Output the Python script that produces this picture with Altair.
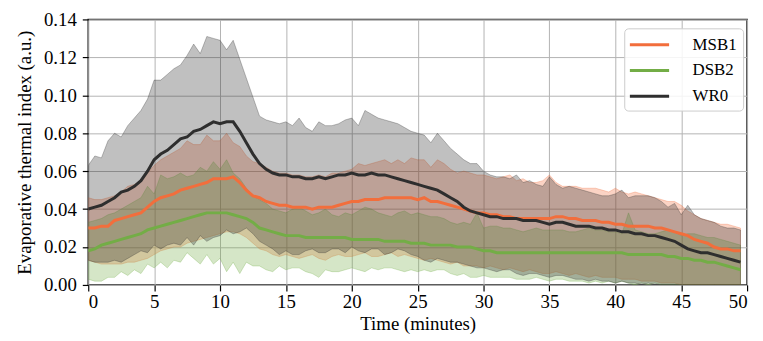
import altair as alt
import pandas as pd

# time axis (minutes), 0.5-minute sampling
T = [i * 0.5 for i in range(100)]

SERIES = ["MSB1", "DSB2", "WR0"]
COLORS = ["#F26E3C", "#73AD46", "#2E2E2E"]

# ---- WR0 ----
WR0_MEAN = [
    .040, .041, .042, .044, .046, .049, .050, .052, .055, .060,
    .066, .069, .071, .074, .077, .078, .081, .082, .084, .086,
    .085, .086, .086, .081, .075, .069, .064, .061, .059, .058,
    .058, .057, .057, .056, .056, .057, .056, .057, .058, .058,
    .059, .058, .058, .059, .058, .058, .057, .056, .055, .054,
    .053, .052, .051, .050, .048, .046, .044, .041, .039, .038,
    .037, .036, .036, .035, .035, .035, .034, .034, .034, .033,
    .032, .033, .033, .032, .031, .031, .031, .030, .030, .029,
    .029, .028, .028, .027, .027, .026, .026, .025, .024, .023,
    .021, .019, .018, .017, .017, .016, .015, .014, .013, .012,
]
WR0_HI = [
    .063, .068, .067, .076, .080, .078, .084, .088, .092, .098,
    .108, .108, .111, .114, .116, .121, .127, .122, .131, .130,
    .129, .124, .129, .119, .109, .099, .089, .087, .086, .085,
    .086, .084, .088, .083, .081, .086, .084, .084, .085, .087,
    .088, .084, .092, .090, .088, .087, .086, .085, .083, .081,
    .080, .079, .075, .080, .076, .072, .069, .066, .064, .064,
    .060, .058, .057, .057, .056, .058, .054, .055, .053, .052,
    .057, .053, .051, .052, .051, .050, .049, .048, .047, .047,
    .048, .050, .046, .047, .047, .047, .046, .044, .041, .043,
    .037, .042, .037, .035, .034, .033, .031, .030, .030, .029,
]
WR0_LO = [
    .013, .012, .012, .012, .013, .012, .014, .016, .018, .017,
    .021, .019, .021, .022, .021, .025, .021, .026, .023, .025,
    .026, .029, .027, .028, .030, .027, .023, .021, .019, .016,
    .018, .016, .016, .018, .019, .017, .017, .019, .019, .017,
    .020, .018, .017, .019, .019, .016, .017, .019, .018, .016,
    .015, .013, .012, .014, .013, .012, .012, .011, .010, .009,
    .009, .008, .007, .008, .008, .006, .005, .006, .006, .005,
    .004, .005, .005, .004, .003, .003, .002, .003, .002, .002,
    .001, .002, .001, .001, .000, .001, .000, .000, .000, .000,
    .000, .000, .000, .000, .000, .000, .000, .000, .000, .000,
]

# ---- MSB1 ----
MSB1_MEAN = [
    .030, .030, .031, .031, .034, .035, .036, .037, .038, .041,
    .044, .046, .047, .048, .050, .051, .052, .053, .054, .056,
    .056, .056, .057, .054, .050, .047, .046, .044, .043, .042,
    .042, .041, .041, .041, .040, .041, .041, .041, .042, .043,
    .044, .044, .045, .045, .045, .046, .046, .046, .046, .046,
    .045, .046, .044, .044, .043, .042, .041, .040, .039, .038,
    .038, .037, .037, .036, .036, .035, .035, .035, .035, .035,
    .035, .036, .036, .035, .035, .034, .034, .034, .033, .033,
    .032, .032, .031, .031, .031, .031, .030, .030, .029, .028,
    .027, .026, .024, .023, .022, .020, .019, .019, .018, .018,
]
MSB1_HI = [
    .046, .045, .045, .046, .047, .049, .052, .053, .055, .059,
    .063, .066, .068, .070, .072, .076, .074, .074, .079, .076,
    .076, .080, .075, .073, .068, .065, .064, .062, .060, .059,
    .059, .058, .058, .057, .057, .058, .057, .059, .059, .060,
    .061, .064, .063, .064, .065, .066, .064, .066, .064, .067,
    .066, .066, .062, .066, .064, .061, .059, .060, .059, .058,
    .058, .057, .056, .057, .058, .055, .056, .054, .054, .055,
    .058, .054, .052, .052, .052, .051, .051, .051, .050, .049,
    .051, .049, .048, .049, .048, .047, .046, .045, .044, .044,
    .042, .039, .037, .035, .034, .033, .032, .032, .031, .030,
]
MSB1_LO = [
    .013, .012, .011, .011, .011, .011, .012, .012, .013, .014,
    .016, .018, .019, .020, .020, .022, .023, .024, .025, .026,
    .027, .028, .028, .027, .025, .022, .019, .018, .016, .015,
    .016, .015, .014, .015, .016, .014, .013, .015, .016, .015,
    .015, .016, .017, .015, .015, .016, .017, .015, .016, .015,
    .014, .013, .014, .013, .012, .011, .012, .010, .010, .010,
    .009, .010, .009, .008, .009, .008, .007, .008, .007, .006,
    .006, .007, .006, .005, .006, .005, .004, .005, .004, .004,
    .004, .003, .003, .003, .002, .002, .002, .001, .001, .001,
    .000, .000, .000, .000, .000, .000, .000, .000, .000, .000,
]

# ---- DSB2 ----
DSB2_MEAN = [
    .018, .019, .021, .022, .023, .024, .025, .026, .027, .029,
    .030, .031, .032, .033, .034, .035, .036, .037, .038, .038,
    .038, .038, .037, .036, .035, .033, .030, .029, .028, .027,
    .026, .026, .026, .025, .025, .025, .025, .025, .025, .025,
    .024, .024, .024, .024, .024, .023, .023, .023, .023, .022,
    .022, .022, .021, .021, .021, .021, .020, .020, .020, .019,
    .018, .018, .017, .017, .017, .017, .017, .017, .017, .017,
    .017, .017, .017, .017, .017, .017, .017, .017, .017, .017,
    .017, .017, .016, .016, .016, .016, .016, .016, .015, .015,
    .014, .014, .013, .013, .012, .012, .011, .010, .009, .008,
]
DSB2_HI = [
    .033, .034, .035, .037, .038, .040, .042, .044, .046, .052,
    .048, .058, .056, .057, .059, .057, .058, .062, .060, .065,
    .061, .066, .059, .056, .051, .047, .045, .043, .040, .039,
    .038, .040, .041, .039, .037, .038, .040, .037, .036, .038,
    .037, .039, .041, .040, .038, .037, .036, .038, .039, .037,
    .038, .037, .036, .036, .035, .033, .032, .033, .032, .038,
    .030, .031, .031, .030, .030, .029, .028, .029, .030, .029,
    .029, .029, .029, .028, .028, .029, .030, .029, .029, .028,
    .028, .027, .038, .029, .028, .027, .027, .028, .029, .028,
    .026, .027, .027, .026, .025, .025, .024, .023, .022, .021,
]
DSB2_LO = [
    .003, .002, .002, .004, .004, .007, .005, .008, .006, .011,
    .009, .012, .009, .013, .012, .017, .014, .011, .016, .011,
    .014, .007, .012, .006, .012, .010, .010, .008, .007, .010,
    .008, .009, .009, .007, .006, .004, .008, .007, .007, .008,
    .009, .008, .007, .009, .008, .009, .009, .008, .007, .008,
    .007, .008, .007, .008, .008, .006, .005, .006, .004, .004,
    .005, .004, .004, .004, .004, .003, .003, .003, .004, .003,
    .002, .003, .003, .002, .002, .002, .001, .002, .001, .002,
    .001, .002, .001, .000, .001, .000, .001, .000, .000, .000,
    .000, .000, .000, .000, .000, .000, .000, .000, .000, .000,
]

TABLE = {
    "MSB1": (MSB1_MEAN, MSB1_LO, MSB1_HI),
    "DSB2": (DSB2_MEAN, DSB2_LO, DSB2_HI),
    "WR0": (WR0_MEAN, WR0_LO, WR0_HI),
}

rows = []
for s in SERIES:
    m, lo, hi = TABLE[s]
    for t, a, b, c in zip(T, m, lo, hi):
        rows.append({"t": t, "series": s, "mean": a, "lo": b, "hi": c})
df = pd.DataFrame(rows)

FONT = "Liberation Serif"
x_scale = alt.Scale(domain=[0, 50], nice=False)
y_scale = alt.Scale(domain=[0, 0.14], nice=False)

x_enc = alt.X("t:Q", scale=x_scale,
              axis=alt.Axis(title="Time (minutes)", values=list(range(0, 51, 5)),
                            format="d", titlePadding=3, labelPadding=2,
                            labelFontSize=19, titleFontSize=19, tickSize=6))
y_axis = alt.Axis(title="Evaporative thermal index (a.u.)",
                  values=[0, 0.02, 0.04, 0.06, 0.08, 0.10, 0.12, 0.14],
                  format=".2f", titlePadding=9, labelPadding=6,
                  labelFontSize=19, titleFontSize=19, tickSize=6)

base = alt.Chart(df)

bands = []
for s, c in zip(SERIES, COLORS):
    bands.append(
        base.transform_filter(alt.datum.series == s)
        .mark_area(color=c, fillOpacity=0.3, stroke=c, strokeOpacity=0.3,
                   strokeWidth=1, clip=True)
        .encode(x=x_enc, y=alt.Y("lo:Q", scale=y_scale, axis=y_axis), y2="hi:Q")
    )

lines = base.mark_line(strokeWidth=3, clip=True).encode(
    x=x_enc,
    y=alt.Y("mean:Q", scale=y_scale, axis=y_axis),
    color=alt.Color(
        "series:N",
        scale=alt.Scale(domain=SERIES, range=COLORS),
        sort=SERIES,
        legend=alt.Legend(
            title=None, orient="none", legendX=541, legendY=9,
            symbolType="M-2.2,0H2.2", symbolSize=324, symbolStrokeWidth=3,
            symbolOffset=9, labelOffset=33, rowPadding=7, padding=6,
            fillColor="rgba(255,255,255,0.85)", strokeColor="#cccccc",
            cornerRadius=4, labelFont=FONT, labelFontSize=17, labelColor="black",
        ),
    ),
    order=alt.Order("series:N"),
)

chart = (
    alt.layer(*bands, lines)
    .properties(width=665, height=268,
                autosize=alt.AutoSizeParams(type="none"),
                padding={"left": 81, "top": 10, "right": 8, "bottom": 50})
    .configure_view(stroke="#1f1f1f", strokeWidth=1.6)
    .configure_axis(
        labelFont=FONT, labelColor="black",
        titleFont=FONT, titleFontWeight="normal", titleColor="black",
        tickColor="black", tickWidth=1.2, domain=False,
        gridColor="#b3b3b3", gridWidth=1, gridOpacity=1,
    )
)

chart.save("out.html", embed_options={"renderer": "svg", "actions": False})
